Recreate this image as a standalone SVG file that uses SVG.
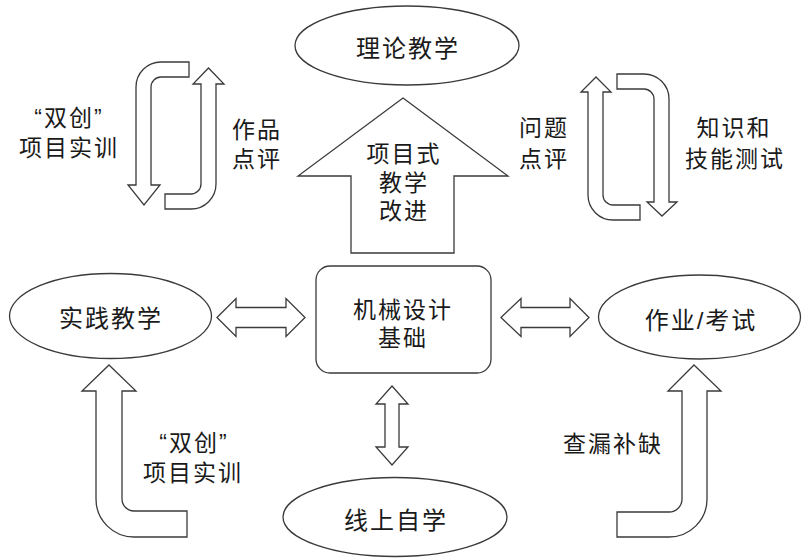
<svg xmlns="http://www.w3.org/2000/svg" width="804" height="558" viewBox="0 0 804 558">
<style>
.s{fill:#fff;stroke:#3a3a3a;stroke-width:1.3;stroke-linejoin:miter}
.t{font-family:"Liberation Sans","Noto Sans CJK SC","Noto Sans CJK JP",sans-serif;font-size:23px;fill:#1a1a1a;text-anchor:middle;letter-spacing:2px}
</style>
<rect width="804" height="558" fill="#fff"/>
<g id="connectors">
<path id="loopTL1" class="s" d="M189 62 L161 62 A25 25 0 0 0 136 87 L136 185 L128 185 L144 205 L160 185 L151 185 L151 87 A10 10 0 0 1 161 77 L189 77 Z"/>
<path id="loopTL2" class="s" d="M208.5 68 L224 84 L216 84 L216 184 A25 25 0 0 1 191 209 L165 209 L165 194 L191 194 A10 10 0 0 0 201 184 L201 84 L193 84 Z"/>
<path id="loopTR1" class="s" d="M596 77 L611 92 L603 92 L603 195 A10 10 0 0 0 613 205 L640 205 L640 220 L613 220 A25 25 0 0 1 588 195 L588 92 L581 92 Z"/>
<path id="loopTR2" class="s" d="M617 74 L644 74 A25 25 0 0 1 669 99 L669 202 L677 202 L662 216 L647 202 L654 202 L654 99 A10 10 0 0 0 644 89 L617 89 Z"/>
<path id="bigUp" class="s" d="M403 98 L508 176 L454 176 L454 253 L351 253 L351 176 L298 176 Z"/>
<path id="dblLeft" class="s" d="M217 317.5 L236 298.5 L236 307.5 L286 307.5 L286 298.5 L305 317.5 L286 336.5 L286 327.5 L236 327.5 L236 336.5 Z"/>
<path id="dblRight" class="s" d="M501 317.5 L521 298.5 L521 307.5 L570 307.5 L570 298.5 L589 317.5 L570 336.5 L570 327.5 L521 327.5 L521 336.5 Z"/>
<path id="dblDown" class="s" d="M392 386 L408 404 L399 404 L399 447 L408 447 L392 465 L376 447 L385 447 L385 404 L376 404 Z"/>
<path id="bentBL" class="s" d="M109 365 L136 391 L122 391 L122 499 A12 12 0 0 0 134 511 L187 511 L187 537 L134 537 A38 38 0 0 1 96 499 L96 391 L82 391 Z"/>
<path id="bentBR" class="s" d="M694 365 L721 391 L707 391 L707 499 A38 38 0 0 1 669 537 L617 537 L617 512 L669 512 A13 13 0 0 0 682 499 L682 391 L668 391 Z"/>
</g>
<g id="theory">
<ellipse class="s" cx="407" cy="45.5" rx="112" ry="39.5"/>
<text class="t" x="408" y="57" style="font-size:24px">理论教学</text>
</g>
<g id="practice">
<ellipse class="s" cx="110.5" cy="316" rx="101" ry="42.5"/>
<text class="t" x="111" y="327" style="font-size:24px">实践教学</text>
</g>
<g id="exam">
<ellipse class="s" cx="699.5" cy="317" rx="101" ry="42"/>
<text class="t" x="701" y="329" style="font-size:24px">作业/考试</text>
</g>
<g id="online">
<ellipse class="s" cx="395" cy="517" rx="112" ry="39.5"/>
<text class="t" x="396" y="529" style="font-size:24px">线上自学</text>
</g>
<g id="core">
<rect class="s" x="316" y="266" width="175" height="107" rx="14"/>
<text class="t" x="403" y="318">机械设计</text>
<text class="t" x="403" y="346">基础</text>
</g>
<g id="labels">
<text class="t" x="404" y="162">项目式</text>
<text class="t" x="404" y="191">教学</text>
<text class="t" x="404" y="219">改进</text>
<text class="t" x="69" y="126">“双创”</text>
<text class="t" x="69" y="156">项目实训</text>
<text class="t" x="257" y="138">作品</text>
<text class="t" x="257" y="167">点评</text>
<text class="t" x="544" y="136">问题</text>
<text class="t" x="544" y="167">点评</text>
<text class="t" x="734" y="136">知识和</text>
<text class="t" x="735" y="167">技能测试</text>
<text class="t" x="194" y="451">“双创”</text>
<text class="t" x="193" y="481">项目实训</text>
<text class="t" x="613" y="452">查漏补缺</text>
</g>
</svg>
